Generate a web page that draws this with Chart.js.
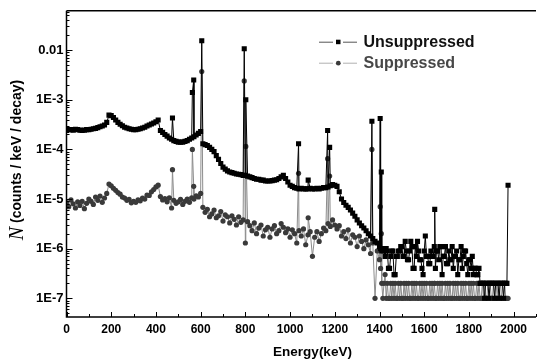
<!DOCTYPE html>
<html>
<head>
<meta charset="utf-8">
<script src="https://cdn.jsdelivr.net/npm/chart.js@4.4.1/dist/chart.umd.min.js"></script>
<style>
  html, body { margin: 0; padding: 0; background: #fff; }
  #wrap { width: 540px; height: 363px; }
</style>
</head>
<body>
<div id="wrap"><canvas id="spectrum" width="540" height="363"></canvas></div>
<script>
// energy grid (keV): 10 keV bins up to 1390, 5 keV bins above
const energies = [
  0, 10, 20, 30, 40, 50, 60, 70, 80, 90, 100, 110, 120, 130, 140, 150, 160, 170, 180, 190,
  200, 210, 220, 230, 240, 250, 260, 270, 280, 290, 300, 310, 320, 330, 340, 350, 360, 370, 380, 390,
  400, 410, 420, 430, 440, 450, 460, 470, 480, 490, 500, 510, 520, 530, 540, 550, 560, 570, 580, 590,
  600, 610, 620, 630, 640, 650, 660, 670, 680, 690, 700, 710, 720, 730, 740, 750, 760, 770, 780, 790,
  800, 810, 820, 830, 840, 850, 860, 870, 880, 890, 900, 910, 920, 930, 940, 950, 960, 970, 980, 990,
  1000, 1010, 1020, 1030, 1040, 1050, 1060, 1070, 1080, 1090, 1100, 1110, 1120, 1130, 1140, 1150, 1160, 1170, 1180, 1190,
  1200, 1210, 1220, 1230, 1240, 1250, 1260, 1270, 1280, 1290, 1300, 1310, 1320, 1330, 1340, 1350, 1360, 1370, 1380, 1390,
  1400, 1405, 1410, 1415, 1420, 1425, 1430, 1435, 1440, 1445, 1450, 1455, 1460, 1465, 1470, 1475, 1480, 1485, 1490, 1495,
  1500, 1505, 1510, 1515, 1520, 1525, 1530, 1535, 1540, 1545, 1550, 1555, 1560, 1565, 1570, 1575, 1580, 1585, 1590, 1595,
  1600, 1605, 1610, 1615, 1620, 1625, 1630, 1635, 1640, 1645, 1650, 1655, 1660, 1665, 1670, 1675, 1680, 1685, 1690, 1695,
  1700, 1705, 1710, 1715, 1720, 1725, 1730, 1735, 1740, 1745, 1750, 1755, 1760, 1765, 1770, 1775, 1780, 1785, 1790, 1795,
  1800, 1805, 1810, 1815, 1820, 1825, 1830, 1835, 1840, 1845, 1850, 1855, 1860, 1865, 1870, 1875, 1880, 1885, 1890, 1895,
  1900, 1905, 1910, 1915, 1920, 1925, 1930, 1935, 1940, 1945, 1950, 1955, 1960, 1965, 1970
];

// counts / keV / decay, without suppression
const unsuppressed = [
  2.4e-4, 2.5e-4, 2.5e-4, 2.45e-4, 2.55e-4, 2.5e-4, 2.45e-4, 2.4e-4, 2.45e-4, 2.5e-4, 2.5e-4, 2.55e-4, 2.6e-4, 2.65e-4, 2.75e-4, 2.85e-4, 2.95e-4, 3.1e-4, 3.5e-4, 4.9e-4,
  4.8e-4, 4.4e-4, 3.9e-4, 3.5e-4, 3.2e-4, 3.0e-4, 2.8e-4, 2.7e-4, 2.6e-4, 2.55e-4, 2.5e-4, 2.5e-4, 2.55e-4, 2.6e-4, 2.7e-4, 2.8e-4, 2.95e-4, 3.1e-4, 3.25e-4, 3.4e-4,
  3.6e-4, 3.9e-4, 2.4e-4, 2.2e-4, 2.0e-4, 1.85e-4, 1.7e-4, 1.6e-4, 1.5e-4, 1.45e-4, 1.4e-4, 1.4e-4, 1.4e-4, 1.45e-4, 1.5e-4, 1.6e-4, 1.7e-4, 1.8e-4, 1.95e-4, 2.1e-4,
  2.3e-4, 1.3e-4, 1.25e-4, 1.2e-4, 1.1e-4, 1.0e-4, 9.0e-5, 7.5e-5, 6.3e-5, 5.2e-5, 4.4e-5, 4.0e-5, 3.7e-5, 3.5e-5, 3.4e-5, 3.3e-5, 3.2e-5, 3.15e-5, 3.1e-5, 3.0e-5,
  3.0e-5, 2.9e-5, 2.8e-5, 2.7e-5, 2.6e-5, 2.5e-5, 2.5e-5, 2.4e-5, 2.4e-5, 2.3e-5, 2.3e-5, 2.3e-5, 2.35e-5, 2.4e-5, 2.45e-5, 2.6e-5, 2.8e-5, 3.0e-5, 2.6e-5, 2.2e-5,
  1.9e-5, 1.8e-5, 1.7e-5, 1.65e-5, 1.6e-5, 1.65e-5, 1.6e-5, 1.6e-5, 1.6e-5, 1.65e-5, 1.6e-5, 1.6e-5, 1.65e-5, 1.6e-5, 1.65e-5, 1.7e-5, 1.7e-5, 1.75e-5, 1.85e-5, 1.95e-5,
  1.9e-5, 1.8e-5, 1.4e-5, 1.0e-5, 8.5e-6, 7.5e-6, 6.8e-6, 6.0e-6, 5.2e-6, 4.5e-6, 3.8e-6, 3.3e-6, 2.9e-6, 2.6e-6, 2.3e-6, 2.0e-6, 1.8e-6, 1.6e-6, 1.4e-6, 1.3e-6,
  1.1e-6, 1.0e-6, 9e-7, 1.0e-6, 9e-7, 7e-7, 1.0e-6, 9e-7, 4e-7, 4e-7, 7e-7, 9e-7, 9e-7, 3e-7, 3e-7, 7e-7, 7e-7, 9e-7, 9e-7, 1.1e-6,
  1.1e-6, 7e-7, 7e-7, 1.4e-6, 9e-7, 6e-7, 6e-7, 9e-7, 1.4e-6, 1.1e-6, 4e-7, 4e-7, 1.1e-6, 7e-7, 1.4e-6, 9e-7, 6e-7, 6e-7, 4e-7, 3e-7,
  9e-7, 1.8e-6, 7e-7, 7e-7, 5e-7, 5e-7, 9e-7, 7e-7, 7e-7, 1.1e-6, 4e-7, 9e-7, 9e-7, 6e-7, 1.1e-6, 1.1e-6, 3e-7, 7e-7, 7e-7, 1.1e-6,
  5e-7, 5e-7, 9e-7, 6e-7, 6e-7, 1.1e-6, 4e-7, 7e-7, 7e-7, 9e-7, 3e-7, 6e-7, 6e-7, 1.1e-6, 4e-7, 7e-7, 9e-7, 9e-7, 5e-7, 3e-7,
  6e-7, 6e-7, 4e-7, 7e-7, 3e-7, 4e-7, 4e-7, 3e-7, 3e-7, 4e-7, 2e-7, 2e-7, 2e-7, 2e-7, 1e-7, 2e-7, 2e-7, 2e-7, 1e-7, 2e-7,
  2e-7, 2e-7, 2e-7, 1e-7, 2e-7, 2e-7, 2e-7, 1e-7, 2e-7, 2e-7, 2e-7, 1e-7, 2e-7, 2e-7, 2e-7
];

// counts / keV / decay, Compton suppressed
const suppressed = [
  8.5e-6, 7.0e-6, 9.6e-6, 8.0e-6, 6.6e-6, 8.8e-6, 7.4e-6, 9.0e-6, 6.4e-6, 8.2e-6, 1.0e-5, 9.0e-6, 7.8e-6, 1.1e-5, 9.4e-6, 1.15e-5, 8.6e-6, 1.05e-5, 1.3e-5, 2.0e-5,
  1.85e-5, 1.65e-5, 1.5e-5, 1.35e-5, 1.25e-5, 1.1e-5, 1.05e-5, 9.4e-6, 9.8e-6, 8.4e-6, 9.0e-6, 8.6e-6, 9.6e-6, 9.2e-6, 1.04e-5, 1.0e-5, 1.2e-5, 1.18e-5, 1.4e-5, 1.55e-5,
  1.75e-5, 1.9e-5, 1.12e-5, 9.6e-6, 1.02e-5, 8.8e-6, 1.06e-5, 6.6e-6, 9.4e-6, 8.2e-6, 8.8e-6, 9.8e-6, 7.8e-6, 9.0e-6, 1.0e-5, 8.6e-6, 1.06e-5, 1.0e-5, 1.16e-5, 1.1e-5,
  1.3e-5, 6.8e-6, 5.4e-6, 6.2e-6, 4.4e-6, 5.0e-6, 6.0e-6, 4.2e-6, 4.6e-6, 5.6e-6, 3.6e-6, 4.8e-6, 4.4e-6, 3.3e-6, 4.6e-6, 3.9e-6, 3.0e-6, 4.4e-6, 3.4e-6, 3.8e-6,
  1.3e-6, 3.5e-6, 2.9e-6, 2.3e-6, 3.3e-6, 2.0e-6, 2.6e-6, 3.0e-6, 1.8e-6, 2.4e-6, 2.7e-6, 1.7e-6, 2.5e-6, 2.9e-6, 2.0e-6, 2.3e-6, 3.2e-6, 2.7e-6, 2.1e-6, 2.5e-6,
  1.7e-6, 2.4e-6, 2.0e-6, 1.3e-6, 2.3e-6, 1.8e-6, 2.5e-6, 1.2e-6, 1.9e-6, 2.2e-6, 7e-7, 1.7e-6, 2.2e-6, 1.4e-6, 2.0e-6, 2.6e-6, 2.3e-6, 3.2e-6, 2.8e-6, 3.8e-6,
  3.0e-6, 2.5e-6, 2.9e-6, 1.8e-6, 2.2e-6, 1.6e-6, 2.4e-6, 1.3e-6, 1.9e-6, 1.7e-6, 1.1e-6, 1.8e-6, 1.4e-6, 1.0e-6, 1.5e-6, 1.2e-6, 8e-7, 1.3e-6, 1e-7, 9e-7,
  6e-7, 4e-7, 2e-7, 1e-7, 2e-7, 3e-7, 1e-7, 2e-7, 1e-7, 1e-7, 2e-7, 1e-7, 2e-7, 1e-7, 2e-7, 1e-7, 1e-7, 2e-7, 1e-7, 2e-7,
  1e-7, 1e-7, 2e-7, 1e-7, 2e-7, 1e-7, 2e-7, 1e-7, 1e-7, 2e-7, 1e-7, 2e-7, 1e-7, 2e-7, 1e-7, 1e-7, 2e-7, 1e-7, 2e-7, 1e-7,
  2e-7, 1e-7, 2e-7, 1e-7, 1e-7, 2e-7, 1e-7, 2e-7, 1e-7, 2e-7, 1e-7, 1e-7, 2e-7, 1e-7, 2e-7, 1e-7, 2e-7, 1e-7, 1e-7, 2e-7,
  1e-7, 2e-7, 1e-7, 2e-7, 1e-7, 1e-7, 2e-7, 1e-7, 2e-7, 1e-7, 2e-7, 1e-7, 1e-7, 2e-7, 1e-7, 2e-7, 1e-7, 2e-7, 1e-7, 1e-7,
  2e-7, 1e-7, 2e-7, 1e-7, 2e-7, 1e-7, 1e-7, 2e-7, 1e-7, 2e-7, 1e-7, 1e-7, 2e-7, 1e-7, 2e-7, 1e-7, 1e-7, 2e-7, 1e-7, 2e-7,
  1e-7, 1e-7, 2e-7, 1e-7, 1e-7, 2e-7, 1e-7, 2e-7, 1e-7, 1e-7, 2e-7, 1e-7, 2e-7, 1e-7, 1e-7
];

// gamma lines
const peakEnergies = [474, 563, 569, 605, 795, 802, 1038, 1081, 1168, 1177, 1366, 1403, 1408, 1647, 1975];
const peakUnsuppressed = [4.3e-4, 1.4e-3, 2.5e-3, 1.54e-2, 1.07e-2, 1.0e-3, 1.3e-4, 2.4e-5, 2.4e-4, 1.1e-4, 3.7e-4, 4.2e-4, 3.5e-5, 6.2e-6, 1.9e-5];
const peakSuppressed = [3.9e-5, 1.0e-4, 1.8e-5, 3.7e-3, 2.4e-3, 1.15e-4, 3.3e-5, 4.2e-6, 6.5e-5, 2.9e-5, 1.0e-4, 7e-6, 2e-6, 2e-7, 1e-7];

const xTicks = [0, 200, 400, 600, 800, 1000, 1200, 1400, 1600, 1800, 2000];
const yTicks = [1e-7, 1e-6, 1e-5, 1e-4, 1e-3, 1e-2];

const FONT = "'Liberation Sans', Arial, sans-serif";

function buildSeries(values, peakValues) {
    const pts = energies.map((e, i) => ({ x: e, y: values[i] }));
    peakEnergies.forEach((e, i) => pts.push({ x: e, y: peakValues[i] }));
    return pts.sort((a, b) => a.x - b.x);
}

function decadeLabel(v) {
    const exp = Math.round(Math.log10(v));
    return exp >= -2 ? String(Math.pow(10, exp)) : "1E" + exp;
}

// frame, inward ticks, axis titles and legend
const decor = {
    id: "decor",
    afterDraw(chart) {
        const { ctx, chartArea: a, scales } = chart;
        const xs = scales.x, ys = scales.y;
        ctx.save();
        ctx.strokeStyle = "#000";
        ctx.lineWidth = 1.5;
        ctx.beginPath();
        ctx.moveTo(a.left, a.top);
        ctx.lineTo(a.left, a.bottom);
        ctx.lineTo(a.right, a.bottom);
        ctx.moveTo(a.left, a.top);
        ctx.lineTo(a.right, a.top);
        ctx.stroke();

        ctx.lineWidth = 1;
        ctx.beginPath();
        for (let v = 0; v <= xs.max; v += 100) {
            const px = Math.round(xs.getPixelForValue(v)) + 0.5;
            const len = v % 200 === 0 ? 5 : 3;
            ctx.moveTo(px, a.bottom);
            ctx.lineTo(px, a.bottom - len);
        }
        for (let d = -8; d <= -2; d++) {
            for (let k = 1; k <= 9; k++) {
                const v = k * Math.pow(10, d);
                if (v < ys.min || v > ys.max) continue;
                const py = Math.round(ys.getPixelForValue(v)) + 0.5;
                ctx.moveTo(a.left, py);
                ctx.lineTo(a.left + (k === 1 ? 6 : 3), py);
            }
        }
        ctx.stroke();

        // x title
        ctx.fillStyle = "#000";
        ctx.font = "bold 13.5px " + FONT;
        ctx.textAlign = "center";
        ctx.textBaseline = "middle";
        ctx.fillText("Energy(keV)", 312.5, 352.5);

        // y title, italic N + bold rest
        const nFont = "italic 20px 'Liberation Serif', 'Times New Roman', serif";
        const rest = " (counts / keV / decay)";
        const restFont = "bold 14px " + FONT;
        ctx.font = nFont;
        const wN = ctx.measureText("N").width;
        ctx.font = restFont;
        const wR = ctx.measureText(rest).width;
        ctx.translate(17, 160);
        ctx.rotate(-Math.PI / 2);
        ctx.textAlign = "left";
        ctx.textBaseline = "middle";
        let tx = -(wN + wR) / 2;
        ctx.font = nFont;
        ctx.fillText("N", tx, 1);
        ctx.font = restFont;
        ctx.fillText(rest, tx + wN, 0);
        ctx.setTransform(1, 0, 0, 1, 0, 0);

        // legend
        const rows = [
            { y: 41.7, line: "#555", mark: "#000", text: "Unsuppressed", color: "#111", rect: true },
            { y: 62.7, line: "#b0b0b0", mark: "#3a3a3a", text: "Suppressed", color: "#474747", rect: false }
        ];
        rows.forEach(r => {
            ctx.strokeStyle = r.line;
            ctx.lineWidth = 1;
            ctx.beginPath();
            ctx.moveTo(319, r.y + 0.5); ctx.lineTo(333, r.y + 0.5);
            ctx.moveTo(343, r.y + 0.5); ctx.lineTo(357, r.y + 0.5);
            ctx.stroke();
            ctx.fillStyle = r.mark;
            if (r.rect) {
                ctx.fillRect(336, r.y - 2, 4.5, 4.5);
            } else {
                ctx.beginPath();
                ctx.arc(338.3, r.y + 0.5, 2.4, 0, Math.PI * 2);
                ctx.fill();
            }
            ctx.fillStyle = r.color;
            ctx.font = "bold 16px " + FONT;
            ctx.textAlign = "left";
            ctx.textBaseline = "middle";
            ctx.fillText(r.text, 363.5, r.y + 1);
        });
        ctx.restore();
    }
};

new Chart(document.getElementById("spectrum"), {
    type: "line",
    data: {
        datasets: [
            {
                label: "Unsuppressed",
                data: buildSeries(unsuppressed, peakUnsuppressed),
                borderColor: "#000",
                borderWidth: 1,
                pointStyle: "rect",
                pointRadius: 3.6,
                pointBackgroundColor: "#000",
                pointBorderWidth: 0,
                tension: 0
            },
            {
                label: "Suppressed",
                data: buildSeries(suppressed, peakSuppressed),
                borderColor: "#8c8c8c",
                borderWidth: 1,
                pointStyle: "circle",
                pointRadius: 2.6,
                pointBackgroundColor: "#3a3a3a",
                pointBorderWidth: 0,
                tension: 0
            }
        ]
    },
    options: {
        responsive: false,
        animation: false,
        devicePixelRatio: 1,
        layout: { padding: { top: 7, left: 0, right: 0, bottom: 0 } },
        plugins: {
            legend: { display: false },
            tooltip: { enabled: false }
        },
        scales: {
            x: {
                type: "linear",
                min: 0,
                max: 2100,
                grid: { display: false, drawTicks: false },
                border: { display: false },
                afterBuildTicks: s => { s.ticks = xTicks.map(v => ({ value: v })); },
                afterFit: s => { s.height = 46; },
                ticks: {
                    autoSkip: false,
                    maxRotation: 0,
                    padding: 5,
                    color: "#000",
                    font: { family: FONT, size: 12, weight: "bold" },
                    callback: v => String(v)
                }
            },
            y: {
                type: "logarithmic",
                min: 4.2e-8,
                max: 0.062,
                grid: { display: false, drawTicks: false },
                border: { display: false },
                afterBuildTicks: s => { s.ticks = yTicks.map(v => ({ value: v })); },
                afterFit: s => { s.width = 66.5; },
                ticks: {
                    autoSkip: false,
                    padding: 3,
                    color: "#000",
                    font: { family: FONT, size: 13, weight: "bold" },
                    callback: v => decadeLabel(v)
                }
            }
        }
    },
    plugins: [decor]
});
</script>
</body>
</html>
